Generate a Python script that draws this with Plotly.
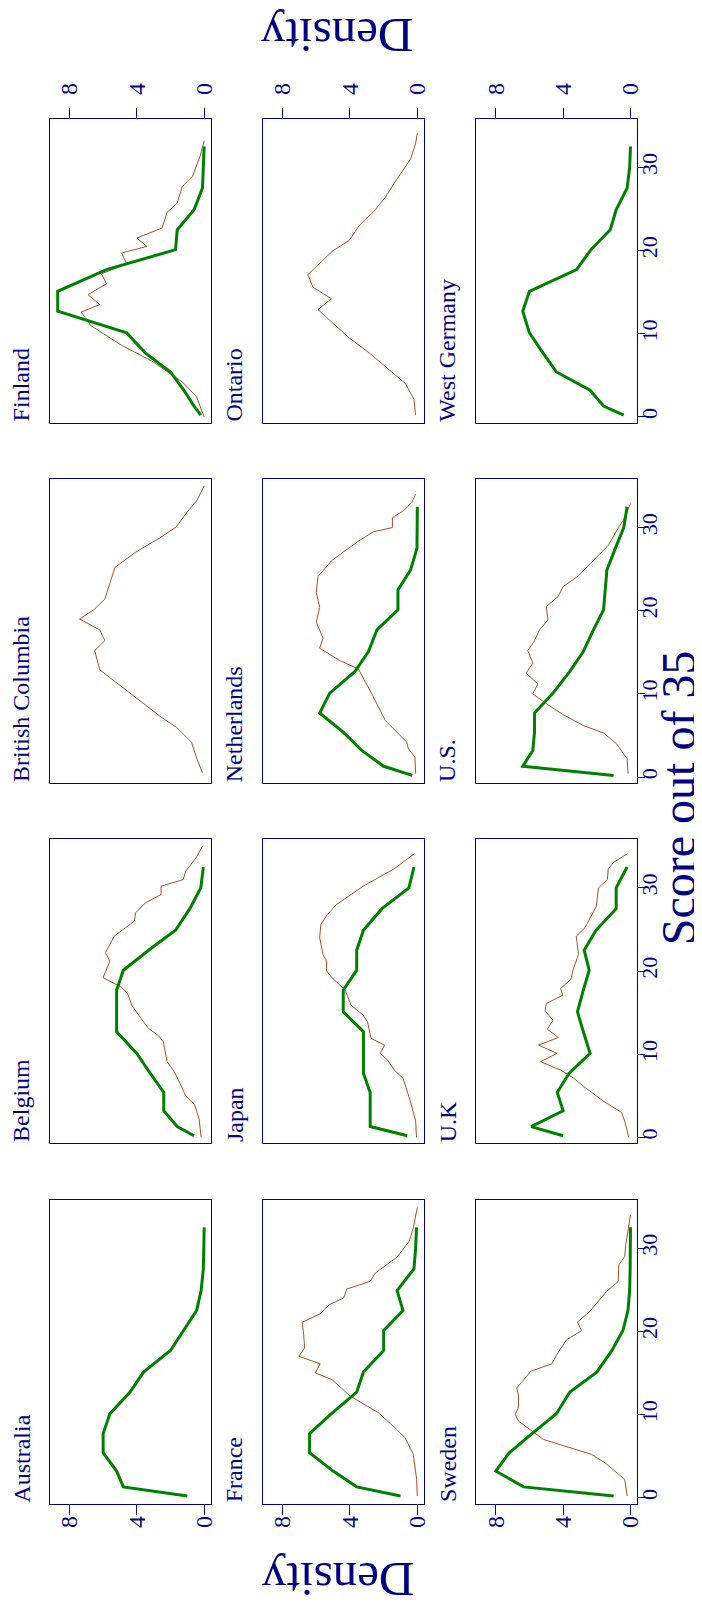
import plotly.graph_objects as go

# ---------------- data ----------------
countries = ["Australia", "Belgium", "British Columbia", "Finland",
             "France", "Japan", "Netherlands", "Ontario",
             "Sweden", "U.K", "U.S.", "West Germany"]

score_ticks = [0, 10, 20, 30]
density_ticks = [0, 4, 8]

# green (thick) curves share one score grid
green_scores = [0.2, 1.3, 3.2, 5.4, 7.7, 10.1, 12.7, 15.1, 17.7, 20.1, 22.5, 24.9, 27.5, 30.0, 32.5]

aus_green = [1.0, 4.8, 5.2, 6.0, 6.0, 5.6, 4.4, 3.6, 2.0, 1.2, 0.45, 0.18, 0.05, 0.02, 0.0]
bel_green = [0.6, 1.6, 2.4, 2.4, 3.2, 4.0, 5.2, 5.2, 5.2, 4.8, 3.3, 1.7, 0.85, 0.2, 0.05]
fin_green = [0.2, 0.6, 1.2, 2.0, 3.5, 4.6, 8.7, 8.7, 5.8, 1.7, 1.6, 0.6, 0.1, 0.05, 0.0]
fra_green = [1.0, 3.6, 5.0, 6.4, 6.4, 5.1, 3.6, 3.2, 2.0, 2.0, 0.85, 1.2, 0.2, 0.1, 0.05]
jpn_green = [0.6, 2.8, 2.8, 2.8, 3.2, 3.2, 3.2, 4.4, 4.4, 3.6, 3.6, 3.2, 2.1, 0.5, 0.2]
net_green = [0.3, 2.0, 3.3, 4.4, 5.8, 5.2, 3.7, 2.9, 2.4, 1.15, 1.15, 0.4, 0.02, 0.01, 0.0]
swe_green = [1.0, 6.35, 8.0, 7.2, 5.85, 4.4, 3.6, 2.0, 1.1, 0.45, 0.15, 0.05, 0.02, 0.01, 0.0]
uk_green = [4.0, 5.9, 4.0, 4.35, 3.65, 2.4, 2.8, 3.15, 2.8, 2.45, 2.75, 2.05, 0.85, 0.85, 0.2]
us_green = [1.0, 6.4, 5.8, 5.7, 5.7, 4.6, 3.6, 2.8, 2.2, 1.6, 1.5, 1.4, 0.9, 0.4, 0.2]
wg_green = [0.4, 1.6, 2.4, 4.4, 5.2, 6.0, 6.4, 6.0, 3.2, 2.35, 1.2, 0.85, 0.2, 0.05, 0.0]

# brown (thin) curves
bel_brown_s = [0, 2.2, 4, 5, 6.2, 7.9, 9.1, 11.5, 12.2, 13.1, 14.3, 15.9, 17.3, 18.1, 19.2, 21.2,
               22.2, 24.2, 25.2, 26, 27, 28.2, 29.2, 30.2, 31, 32, 33.7, 35]
bel_brown_d = [0.18, 0.3, 0.58, 1.1, 1.37, 1.77, 2.2, 2.43, 2.7, 3.3, 3.75, 4.3, 4.55, 4.95, 6.0, 5.6,
               5.86, 5.34, 4.68, 4.15, 4.07, 3.49, 2.56, 2.56, 1.24, 1.1, 0.45, 0.1]

bc_brown_s = [0.5, 2.3, 4.2, 6, 7.2, 9.1, 11, 12.9, 15.2, 16.4, 17.7, 19, 20.2, 21.4, 23.3, 25.2,
              27, 28.8, 30.1, 31.9, 33.2, 35]
bc_brown_d = [0.1, 0.45, 0.75, 1.65, 2.55, 3.75, 5.0, 6.2, 6.5, 5.9, 6.2, 7.4, 6.5, 5.9, 5.6, 5.3,
              4.1, 2.6, 1.65, 1.0, 0.45, 0.0]

fin_brown_s = [0, 2.4, 4.2, 6.7, 8.6, 9.8, 11.0, 12.6, 13.5, 14.7, 16.0, 17.2, 18.4, 19.7, 20.5,
               21.5, 22.7, 24.6, 25.7, 27.7, 28.9, 31.3, 33.2]
fin_brown_d = [0.0, 0.45, 1.3, 3.1, 4.9, 5.8, 6.75, 7.3, 6.2, 6.9, 5.8, 6.1, 4.6, 4.9, 3.4,
               4.0, 2.5, 2.2, 1.6, 1.3, 0.7, 0.25, 0.0]

fra_brown_s = [0.2, 2.2, 5.2, 7.2, 8.2, 10.2, 12.2, 14.2, 15, 16.1, 17, 18, 19.6, 21.1, 22.1, 23.2,
               24, 25.1, 26, 27, 28.9, 30.8, 32.4, 34.9]
fra_brown_d = [0.0, 0.04, 0.24, 0.73, 1.22, 2.3, 3.98, 5.07, 6.06, 5.77, 7.04, 6.69, 6.75, 6.84, 5.77, 5.23,
               4.38, 4.18, 2.8, 2.5, 1.22, 0.49, 0.24, 0.0]

jpn_brown_s = [0, 2, 4.6, 7.1, 8.1, 9.3, 10.1, 11.1, 11.9, 13.9, 14.7, 15.9, 17.7, 19.2, 20, 21.2,
               22, 24, 25.6, 26.8, 28, 30.2, 32.3, 34.1]
jpn_brown_d = [0.05, 0.1, 0.45, 0.85, 1.37, 1.77, 2.2, 1.95, 2.75, 2.96, 3.22, 3.94, 4.28, 5.07, 5.39, 5.39,
               5.6, 5.8, 5.73, 5.34, 4.8, 3.22, 1.37, 0.18]

net_brown_s = [0.4, 2.4, 3.4, 4.2, 6.8, 8.5, 10.0, 11.5, 13.0, 14.0, 15.5, 16.7, 18.6, 20.4, 22.2,
               24.1, 26.0, 27.2, 28.5, 29.5, 30.0, 31.2, 32.0, 33.0, 34.0]
net_brown_d = [0.1, 0.14, 0.53, 0.63, 1.9, 2.3, 2.7, 3.1, 3.5, 4.6, 5.8, 5.6, 6.0, 5.8, 6.0,
               5.9, 5.1, 4.3, 3.4, 2.6, 1.48, 1.48, 0.83, 0.34, 0.1]

ont_brown_s = [0.2, 2.1, 4, 5.5, 7.6, 9.5, 11.3, 12.9, 14.2, 15.6, 17.1, 18.7, 20, 21.2, 23, 24.9,
               26.4, 28, 29.2, 31, 32.9, 34.1]
ont_brown_d = [0.1, 0.2, 0.7, 1.6, 2.8, 4.05, 5.0, 5.9, 5.1, 6.2, 6.5, 5.7, 5.0, 4.05, 3.45, 2.5,
               1.9, 1.4, 1.0, 0.4, 0.1, 0.0]

swe_brown_s = [0.2, 2.2, 4.2, 5.2, 7, 8.2, 9.2, 10, 10.9, 12.2, 13.2, 15.2, 16.1, 17.2, 19, 20.1,
               21.1, 22.4, 24, 24.8, 26, 28, 29, 30.4, 34]
swe_brown_d = [0.2, 0.34, 1.52, 2.31, 5.17, 5.96, 6.65, 6.84, 6.65, 6.65, 6.75, 5.92, 4.67, 4.38, 3.79, 2.9,
               3.16, 2.41, 1.72, 1.42, 0.73, 0.69, 0.34, 0.28, 0.0]

uk_brown_s = [0, 1.8, 3, 4.4, 6, 7.1, 8.1, 9.1, 10.1, 11.1, 12, 13, 14.1, 15.2, 16.1, 17.1, 17.9,
              19, 20, 22, 24.2, 25.2, 27.8, 30, 31, 32.3, 33.1, 34.1]
uk_brown_d = [0.1, 0.32, 0.53, 1.64, 2.7, 3.36, 4.15, 5.34, 4.36, 5.47, 4.28, 4.94, 4.6, 5.07, 5.0, 4.02, 4.15,
              3.54, 3.43, 3.09, 3.22, 2.7, 2.03, 1.9, 1.37, 1.32, 0.98, 0.18]

us_brown_s = [0.4, 2.2, 4.0, 5.3, 6.2, 7.5, 8.7, 10, 11.2, 12.5, 13.7, 15.2, 16.4, 17.7, 18.9, 20.5,
              21.7, 22.9, 24.2, 26, 27.9, 29.7, 31, 32.9]
us_brown_d = [0.14, 0.2, 0.83, 1.6, 2.8, 4.0, 4.9, 5.8, 5.5, 6.2, 5.8, 6.1, 5.7, 5.4, 4.9, 5.0,
              4.3, 4.0, 3.1, 2.2, 1.3, 0.8, 0.4, 0.0]

green_by_country = {
    "Australia": aus_green, "Belgium": bel_green, "Finland": fin_green,
    "France": fra_green, "Japan": jpn_green, "Netherlands": net_green,
    "Sweden": swe_green, "U.K": uk_green, "U.S.": us_green, "West Germany": wg_green,
}
brown_by_country = {
    "Belgium": (bel_brown_s, bel_brown_d), "British Columbia": (bc_brown_s, bc_brown_d),
    "Finland": (fin_brown_s, fin_brown_d), "France": (fra_brown_s, fra_brown_d),
    "Japan": (jpn_brown_s, jpn_brown_d), "Netherlands": (net_brown_s, net_brown_d),
    "Ontario": (ont_brown_s, ont_brown_d), "Sweden": (swe_brown_s, swe_brown_d),
    "U.K": (uk_brown_s, uk_brown_d), "U.S.": (us_brown_s, us_brown_d),
}

# ---------------- layout geometry (pixels) ----------------
W, H = 702, 1610
NAVY = "#000080"
GREEN = "#008000"
BROWN = "#A0522D"
FONT = "Liberation Serif, Times New Roman, serif"

col_left = [42.3, 257.3, 472.3]
panel_w = 162.0
row_top = [110.7, 470.9, 831.2, 1191.5]
panel_h = 304.0


def px_x(p):
    return p / W


def px_y(p):
    return 1 - p / H


fig = go.Figure()
layout = dict(
    width=W, height=H, autosize=False,
    margin=dict(l=0, r=0, t=0, b=0),
    paper_bgcolor="white", plot_bgcolor="white",
    showlegend=False,
    font=dict(family=FONT, color=NAVY),
)
annotations = []

for i, name in enumerate(countries):
    col = i // 4
    row = 3 - (i % 4)
    idx = i + 1
    xa = "x" if idx == 1 else f"x{idx}"
    ya = "y" if idx == 1 else f"y{idx}"
    L = col_left[col]
    T = row_top[row]

    if name in brown_by_country:
        s, d = brown_by_country[name]
        fig.add_trace(go.Scatter(x=d, y=s, mode="lines", line=dict(color=BROWN, width=1),
                                 xaxis=xa, yaxis=ya, hoverinfo="skip"))
    if name in green_by_country:
        fig.add_trace(go.Scatter(x=green_by_country[name], y=green_scores, mode="lines",
                                 line=dict(color=GREEN, width=3),
                                 xaxis=xa, yaxis=ya, hoverinfo="skip"))

    dens_labels = row in (0, 3)
    score_labels = col == 2
    xaxis = dict(
        domain=[px_x(L), px_x(L + panel_w)],
        range=[9.16, -0.38],
        anchor=ya,
        showgrid=False, zeroline=False,
        showline=True, mirror=True, linecolor=NAVY, linewidth=1,
        tickvals=density_ticks,
        ticks="outside" if dens_labels else "",
        ticklen=10, tickwidth=1, tickcolor=NAVY,
        showticklabels=dens_labels,
        ticklabelstandoff=8 if row == 0 else -8,
        side="top" if row == 0 else "bottom",
        tickangle=-90,
        tickfont=dict(family=FONT, size=24, color=NAVY),
    )
    yaxis = dict(
        domain=[px_y(T + panel_h), px_y(T)],
        range=[-0.7, 35.85],
        anchor=xa,
        showgrid=False, zeroline=False,
        showline=True, mirror=True, linecolor=NAVY, linewidth=1,
        tickvals=score_ticks,
        ticks="outside" if score_labels else "",
        ticklen=7, tickwidth=1, tickcolor=NAVY,
        showticklabels=score_labels,
        ticklabelstandoff=-14,
        side="right",
        tickangle=-90,
        tickfont=dict(family=FONT, size=22, color=NAVY),
    )
    layout["xaxis" if idx == 1 else f"xaxis{idx}"] = xaxis
    layout["yaxis" if idx == 1 else f"yaxis{idx}"] = yaxis

    annotations.append(dict(
        text=name, xref="paper", yref="paper",
        x=px_x(L - 29), y=px_y(T + panel_h),
        xanchor="center", yanchor="bottom",
        textangle=-90, showarrow=False, borderpad=0,
        font=dict(family=FONT, size=24, color=NAVY),
    ))

annotations.append(dict(
    text="Score out of 35", xref="paper", yref="paper",
    x=px_x(677), y=px_y(790), xanchor="center", yanchor="middle",
    textangle=-90, showarrow=False, borderpad=0,
    font=dict(family=FONT, size=48, color=NAVY)))
annotations.append(dict(
    text="Density", xref="paper", yref="paper",
    x=px_x(333), y=px_y(1572), xanchor="center", yanchor="middle",
    textangle=180, showarrow=False, borderpad=0,
    font=dict(family=FONT, size=49, color=NAVY)))
annotations.append(dict(
    text="Density", xref="paper", yref="paper",
    x=px_x(332), y=px_y(28), xanchor="center", yanchor="middle",
    textangle=180, showarrow=False, borderpad=0,
    font=dict(family=FONT, size=49, color=NAVY)))

layout["annotations"] = annotations
fig.update_layout(**layout)
fig.write_html("out.html")
